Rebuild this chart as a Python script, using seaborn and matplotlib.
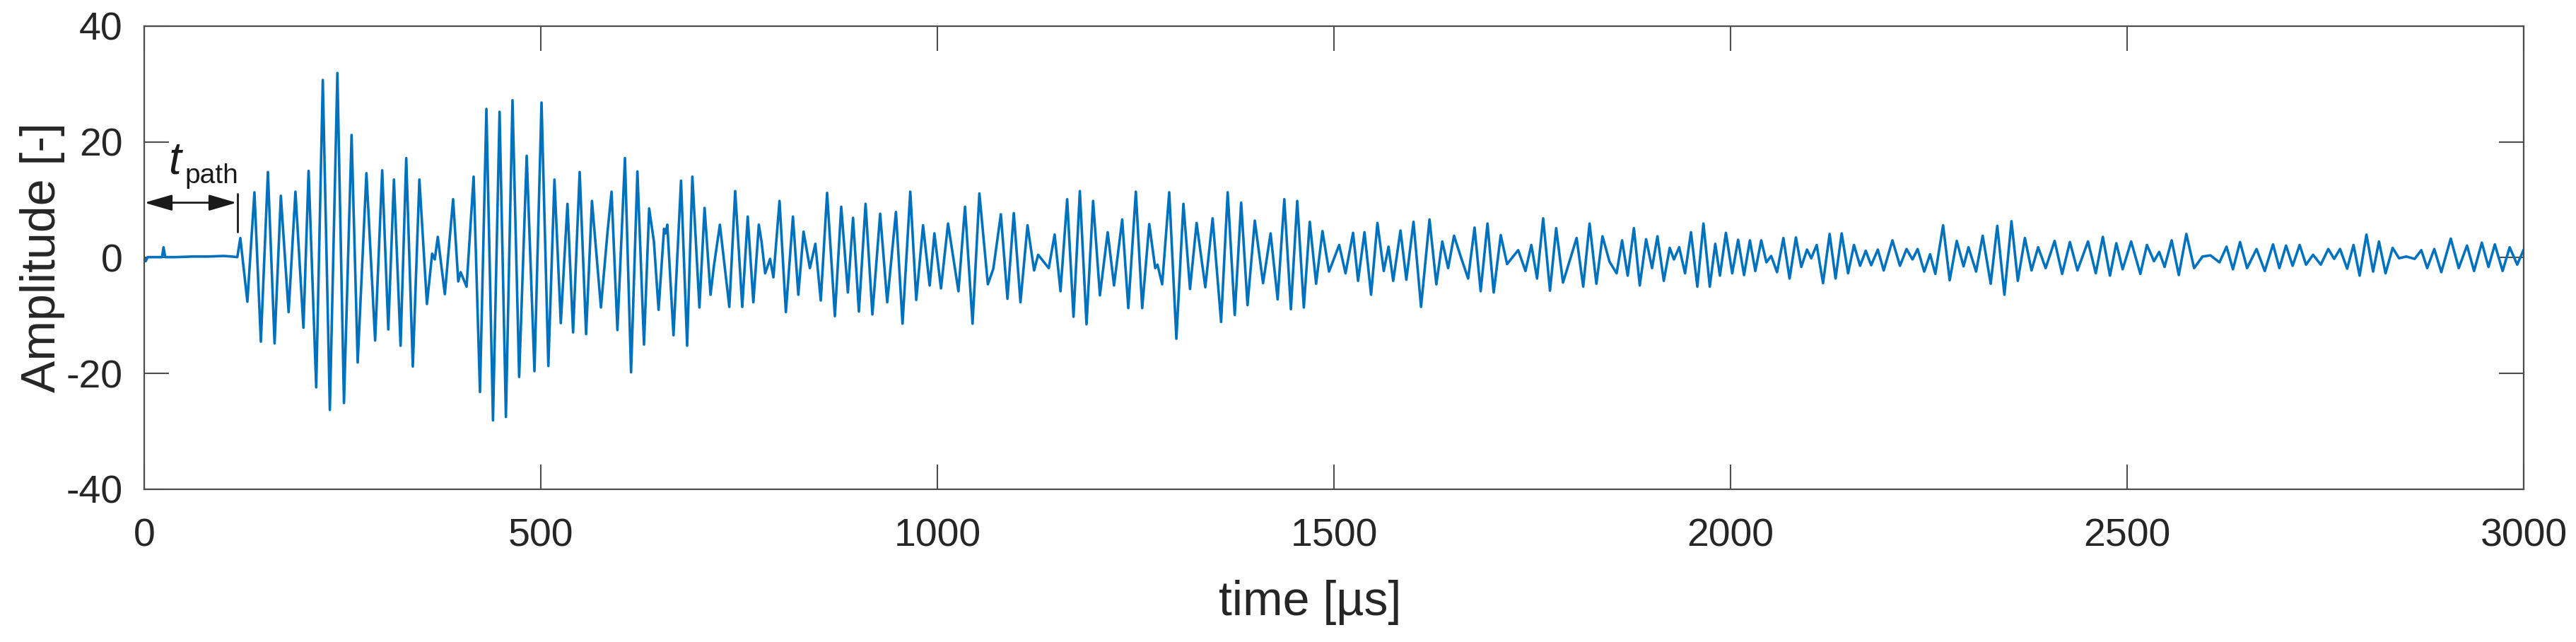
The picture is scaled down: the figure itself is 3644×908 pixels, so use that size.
import matplotlib
matplotlib.use("Agg")
import matplotlib.pyplot as plt
import seaborn as sns
import pandas as pd

# ============ DATA (peaks / troughs of the waveform) ============
time_us = [
    0, 1.5, 4, 22, 24, 26, 40, 60, 80, 100, 110, 117,
    120.8, 129.7, 138.6, 146.7, 155.6, 164.0, 171.9, 181.7, 190.3, 200.4,
    206.9, 216.5, 224.8, 233.7, 243.2, 251.5, 261.1, 268.8, 279.8, 290.8,
    299.7, 307.4, 314.5, 322.9, 330.0, 338.3, 346.6, 356.1, 362.7, 366.0,
    369.8, 378.7, 389.1, 395.6, 398.6, 406.1, 415.0, 423.0, 431.1, 439.4,
    447.7, 455.7, 464.0, 472.4, 481.9, 491.7, 500.6, 509.2, 516.9, 524.9,
    533.3, 540.4, 548.7, 556.8, 564.2, 575.5, 583.8, 588.9, 596.3, 605.8,
    613.5, 621.5, 629.8, 636.3, 642.3, 648.2, 655.1, 657.0, 659.2, 667.0,
    676.5, 684.2, 690.8, 699.7, 706.2, 713.7, 718.0, 725.5, 737.4, 744.8,
    753.7, 760.6, 767.7, 774.6, 778.0, 782.6, 788.8, 793.0, 800.7, 808.7,
    817.6, 824.4, 831.0, 839.0, 845.9, 852.7, 860.7, 870.5, 878.5, 886.9,
    893.4, 900.8, 909.2, 917.8, 927.6, 936.5, 947.5, 955.8, 965.6, 973.1,
    981.7, 990.0, 996.0, 1004.3, 1013.2, 1026.3, 1034.6, 1044.1, 1052.7, 1063.4,
    1070.3, 1079.8, 1088.1, 1096.1, 1104.5, 1113.4, 1121.7, 1126.8, 1140.2, 1147.6,
    1155.0, 1163.4, 1171.4, 1179.4, 1187.8, 1196.1, 1204.7, 1214.5, 1222.5, 1232.8,
    1240.5, 1250.0, 1258.0, 1266.9, 1274.4, 1277.3, 1283.2, 1292.1, 1301.1, 1310.0,
    1318.3, 1326.6, 1337.6, 1346.8, 1357.5, 1365.8, 1374.7, 1382.8, 1390.8, 1400.0,
    1410.4, 1419.9, 1428.8, 1437.2, 1445.5, 1453.5, 1461.8, 1469.3, 1477.3, 1485.3,
    1493.6, 1506.4, 1514.4, 1523.9, 1530.2, 1538.3, 1546.6, 1554.6, 1562.6, 1568.6,
    1574.5, 1583.7, 1591.1, 1600.1, 1609.6, 1620.3, 1628.9, 1636.4, 1643.8, 1651.2,
    1660.1, 1669.0, 1677.1, 1684.8, 1693.4, 1701.2, 1710.1, 1718.1, 1732.1, 1741.3,
    1748.7, 1755.9, 1763.6, 1772.2, 1780.0, 1788.6, 1805.8, 1814.1, 1822.1, 1830.7,
    1838.4, 1847.3, 1856.2, 1863.1, 1870.2, 1878.0, 1885.4, 1893.4, 1900.9, 1907.7,
    1915.7, 1923.2, 1928.5, 1935.1, 1942.5, 1950.0, 1958.0, 1965.7, 1973.7, 1980.6,
    1986.5, 1994.0, 2002.0, 2009.4, 2016.9, 2024.3, 2031.1, 2038.6, 2045.1, 2051.1,
    2058.5, 2066.5, 2074.3, 2082.3, 2089.1, 2096.3, 2101.6, 2108.5, 2116.5, 2124.8,
    2132.3, 2140.0, 2148.1, 2155.5, 2163.2, 2170.4, 2177.2, 2185.6, 2193.0, 2204.0,
    2213.5, 2221.8, 2229.3, 2235.8, 2244.1, 2251.5, 2258.1, 2267.9, 2276.2, 2285.1,
    2293.7, 2299.9, 2309.5, 2317.8, 2327.9, 2336.2, 2345.2, 2354.1, 2362.1, 2371.0,
    2379.4, 2387.7, 2397.2, 2408.5, 2418.0, 2427.8, 2437.3, 2450.6, 2460.4, 2469.3,
    2478.3, 2486.3, 2494.3, 2505.0, 2516.6, 2524.9, 2533.8, 2540.4, 2547.2, 2556.1,
    2565.1, 2574.6, 2584.4, 2595.0, 2605.0, 2616.4, 2625.3, 2633.4, 2642.3, 2651.2,
    2663.1, 2673.5, 2683.9, 2691.9, 2700.3, 2708.6, 2717.5, 2725.5, 2734.4, 2744.1,
    2753.6, 2761.0, 2768.4, 2777.4, 2785.4, 2793.1, 2801.7, 2810.1, 2817.5, 2825.8,
    2834.7, 2842.8, 2852.0, 2862.5, 2870.9, 2878.3, 2887.2, 2896.1, 2908.0, 2918.1,
    2928.5, 2937.4, 2947.2, 2955.6, 2963.6, 2973.4, 2982.3, 2991.8, 3000.0,
]
amplitude = [
    0.0, -0.6, 0.1, 0.1, 1.8, 0.1, 0.1, 0.2, 0.2, 0.3, 0.2, 0.1,
    3.4, -7.6, 11.3, -14.5, 14.8, -14.8, 10.7, -9.4, 11.4, -12.1,
    15.0, -22.4, 30.7, -26.3, 31.9, -25.1, 21.2, -18.1, 14.6, -14.3,
    15.1, -12.4, 13.5, -15.2, 17.2, -18.8, 13.5, -8.0, 0.7, -0.3,
    3.6, -6.3, 10.1, -4.1, -2.5, -5.0, 14.0, -23.2, 25.7, -28.1,
    25.2, -27.5, 27.2, -20.6, 17.6, -19.6, 26.8, -18.7, 13.5, -11.3,
    9.3, -12.9, 14.8, -13.2, 9.8, -8.6, 4.4, 11.4, -12.5, 17.2,
    -19.8, 14.9, -15.0, 8.5, 2.8, -9.0, 5.0, 4.2, 5.7, -13.4,
    13.3, -15.2, 14.0, -8.6, 8.6, -6.4, -1.4, 5.7, -8.5, 11.5,
    -8.5, 7.1, -7.7, 5.7, 2.8, -2.7, -0.2, -3.4, 9.8, -9.4,
    7.1, -6.4, 4.5, -1.8, 2.4, -7.4, 11.2, -10.1, 8.8, -6.0,
    6.9, -9.3, 9.3, -9.8, 7.6, -7.7, 7.9, -11.4, 11.4, -7.3,
    5.6, -4.8, 4.2, -5.3, 5.9, -5.8, 8.8, -11.4, 11.1, -4.6,
    -1.9, 7.5, -7.1, 7.7, -7.7, 5.6, -2.2, 0.5, -1.8, 4.0,
    -5.8, 10.1, -10.2, 11.5, -11.5, 9.8, -6.5, 4.4, -4.8, 6.6,
    -8.7, 11.4, -8.7, 5.8, -1.8, -1.2, -4.6, 11.3, -14.0, 9.3,
    -5.4, 6.0, -5.1, 6.8, -11.1, 11.3, -9.9, 9.5, -8.2, 6.4,
    -4.4, 4.2, -7.2, 10.1, -8.9, 9.8, -8.6, 6.2, -4.5, 4.6,
    -2.4, 2.2, -2.7, 4.3, -4.0, 4.4, -6.4, 6.0, -2.3, 1.9,
    -4.0, 4.7, -3.8, 6.2, -8.5, 6.6, -4.6, 2.8, -1.8, 3.8,
    0.0, -3.6, 5.2, -5.8, 5.9, -6.0, 3.9, -1.1, 1.3, -2.3,
    2.2, -3.6, 6.8, -5.7, 5.1, -4.3, 3.4, -5.0, 5.9, -4.5,
    3.7, -0.7, -2.7, 3.0, -3.1, 5.1, -4.8, 3.2, -1.8, 3.7,
    -4.0, 1.7, -0.3, 1.8, -2.7, 4.4, -5.0, 5.9, -5.0, 2.4,
    -3.1, 4.3, -2.7, 3.1, -3.0, 3.0, -2.3, 3.0, -0.8, 0.3,
    -2.5, 3.4, -3.6, 3.5, -1.6, 1.4, -0.1, 2.2, -4.4, 4.1,
    -3.6, 4.2, -2.7, 2.2, -1.4, 1.2, -1.3, 1.4, -2.2, 3.0,
    -1.4, 1.5, -0.3, 1.5, -2.4, 0.6, -2.8, 5.6, -3.9, 2.9,
    -1.5, 1.8, -2.4, 3.8, -4.5, 5.5, -6.4, 6.3, -4.0, 3.4,
    -2.2, 1.8, -1.8, 2.9, -2.8, 2.7, -2.2, 2.8, -2.7, 3.6,
    -3.1, 2.5, -2.0, 2.8, -2.8, 2.2, -0.6, 1.0, -1.6, 3.0,
    -3.0, 4.1, -1.8, 0.2, 0.4, -0.8, 1.9, -2.0, 2.7, -1.8,
    1.5, -2.3, 2.3, -1.8, 2.1, -1.4, 2.2, -1.2, 0.5, -1.2,
    1.5, -0.2, 1.5, -1.9, 2.2, -3.1, 4.0, -2.4, 2.8, -2.7,
    1.7, -0.1, 0.2, -0.2, 1.3, -1.8, 1.5, -2.5, 3.3, -1.8,
    2.1, -2.3, 2.6, -1.6, 2.3, -2.3, 1.8, -1.2, 1.4,
]
x_ticks = [0, 500, 1000, 1500, 2000, 2500, 3000]
y_ticks = [-40, -20, 0, 20, 40]
t_path_us = 117  # end of the t_path arrow

df = pd.DataFrame({"time": time_us, "amp": amplitude})

# ============ STYLE ============
sns.set_theme(style="white")
plt.rcParams["font.family"] = ["Liberation Sans", "DejaVu Sans"]
plt.rcParams["axes.unicode_minus"] = False
axis_grey = "#4d4d4d"
text_grey = "#262626"

fig = plt.figure(figsize=(36.44, 9.08), dpi=100)
ax = fig.add_axes([0.0561, 0.2379, 0.9236, 0.7214])

sns.lineplot(data=df, x="time", y="amp", ax=ax, color="#0072BD",
             linewidth=2.6, sort=False, estimator=None,
             solid_joinstyle="round")

ax.set_xlim(0, 3000)
ax.set_ylim(-40, 40)
ax.set_xticks(x_ticks)
ax.set_yticks(y_ticks)
ax.tick_params(direction="in", length=25, width=1.5, color=axis_grey,
               top=True, right=True, bottom=True, left=True,
               labelsize=40, labelcolor=text_grey)
ax.tick_params(axis="x", pad=29)
ax.tick_params(axis="y", pad=22)
for sp in ax.spines.values():
    sp.set_color(axis_grey)
    sp.set_linewidth(1.6)

ax.set_xlabel("time [µs]", fontsize=49, color=text_grey, va="center")
ax.set_ylabel("Amplitude [-]", fontsize=49, color=text_grey, va="center")
ax.xaxis.set_label_coords(0.49, -0.245)
ax.yaxis.set_label_coords(-0.043, 0.5)

# t_path annotation
ax.annotate("", xy=(0, 9.5), xytext=(t_path_us - 1, 9.5),
            arrowprops=dict(arrowstyle="<|-|>,head_length=24,head_width=7",
                            mutation_scale=1, color="#1a1a1a", lw=2,
                            shrinkA=0, shrinkB=0))
ax.plot([t_path_us, t_path_us], [4.5, 11.1], color="#1a1a1a", lw=2)
ax.text(30, 14.5, "t", fontsize=46, style="italic", color="#1a1a1a",
        ha="left", va="baseline")
ax.text(51, 12.9, "path", fontsize=28, color="#1a1a1a",
        ha="left", va="baseline")

fig.savefig("out.png", dpi=100, facecolor="white")
